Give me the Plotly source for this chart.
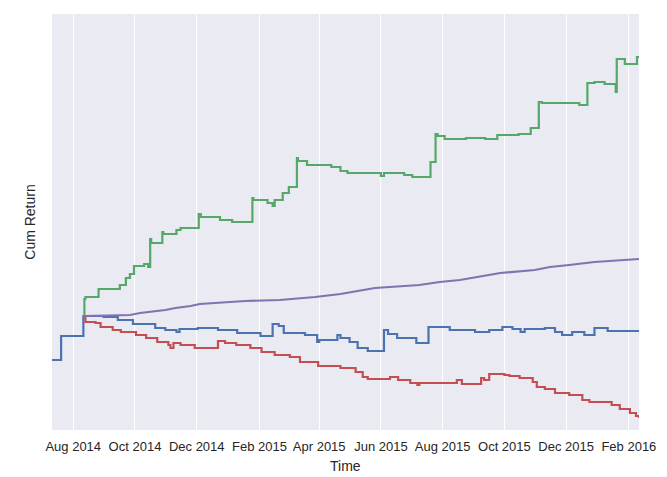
import plotly.graph_objects as go

blue_dates = ["2014-07-11", "2014-07-20", "2014-08-11", "2014-08-31", "2014-09-14", "2014-09-29",
              "2014-10-21", "2014-10-31", "2014-11-11", "2014-11-14", "2014-12-02", "2014-12-22",
              "2015-01-10", "2015-02-02", "2015-02-14", "2015-02-20", "2015-02-25", "2015-03-18",
              "2015-03-30", "2015-04-01", "2015-04-19", "2015-04-22", "2015-05-01", "2015-05-09",
              "2015-05-19", "2015-06-04", "2015-06-08", "2015-06-17", "2015-07-06", "2015-07-18",
              "2015-08-08", "2015-09-02", "2015-09-16", "2015-09-29", "2015-10-09", "2015-10-17",
              "2015-10-21", "2015-11-10", "2015-11-20", "2015-11-27", "2015-12-07", "2015-12-19",
              "2015-12-29", "2016-01-11", "2016-02-11"]
blue_vals = [0.00, 0.24, 0.44, 0.43, 0.40, 0.36,
             0.32, 0.30, 0.28, 0.31, 0.32, 0.30,
             0.27, 0.24, 0.36, 0.34, 0.27, 0.25,
             0.18, 0.20, 0.25, 0.22, 0.18, 0.12,
             0.09, 0.30, 0.26, 0.22, 0.17, 0.33,
             0.30, 0.28, 0.30, 0.33, 0.31, 0.28,
             0.31, 0.32, 0.28, 0.25, 0.28, 0.25,
             0.32, 0.29, 0.29]

green_dates = ["2014-08-11", "2014-08-12", "2014-08-13", "2014-08-26", "2014-09-16", "2014-09-22",
               "2014-09-26", "2014-09-30", "2014-10-10", "2014-10-14", "2014-10-16", "2014-10-17",
               "2014-10-28", "2014-10-29", "2014-11-11", "2014-11-15", "2014-12-03", "2014-12-05",
               "2014-12-24", "2015-01-05", "2015-01-25", "2015-01-26", "2015-02-09", "2015-02-14",
               "2015-02-16", "2015-02-24", "2015-03-02", "2015-03-10", "2015-03-11", "2015-03-20",
               "2015-04-13", "2015-04-22", "2015-04-29", "2015-06-01", "2015-06-04", "2015-06-24",
               "2015-07-02", "2015-07-20", "2015-07-25", "2015-07-27", "2015-08-03", "2015-08-24",
               "2015-09-12", "2015-09-24", "2015-10-15", "2015-10-27", "2015-11-04", "2015-11-07",
               "2015-12-14", "2015-12-22", "2015-12-29", "2016-01-08", "2016-01-19", "2016-01-20",
               "2016-01-28", "2016-02-09", "2016-02-11"]
green_vals = [0.44, 0.61, 0.63, 0.71, 0.75, 0.82,
              0.86, 0.94, 0.96, 0.93, 1.21, 1.17,
              1.28, 1.26, 1.30, 1.32, 1.46, 1.43,
              1.40, 1.38, 1.62, 1.60, 1.57, 1.54,
              1.60, 1.67, 1.73, 2.02, 1.99, 1.95,
              1.93, 1.89, 1.87, 1.84, 1.87, 1.85,
              1.83, 1.98, 2.26, 2.24, 2.21, 2.22,
              2.21, 2.25, 2.26, 2.32, 2.58, 2.57,
              2.55, 2.77, 2.78, 2.76, 2.68, 3.01,
              2.96, 3.03, 3.03]

red_dates = ["2014-08-11", "2014-08-13", "2014-08-23", "2014-08-28", "2014-09-09", "2014-09-17",
             "2014-10-02", "2014-10-12", "2014-10-23", "2014-11-03", "2014-11-05", "2014-11-08",
             "2014-11-15", "2014-11-29", "2014-12-22", "2014-12-29", "2015-01-09", "2015-01-23",
             "2015-02-03", "2015-02-16", "2015-03-03", "2015-03-13", "2015-03-31", "2015-04-22",
             "2015-05-07", "2015-05-14", "2015-05-19", "2015-06-10", "2015-06-18", "2015-06-30",
             "2015-07-07", "2015-07-09", "2015-08-15", "2015-08-20", "2015-09-08", "2015-09-11",
             "2015-09-16", "2015-10-01", "2015-10-06", "2015-10-16", "2015-10-29", "2015-11-02",
             "2015-11-10", "2015-11-20", "2015-12-04", "2015-12-17", "2015-12-24", "2016-01-15",
             "2016-01-23", "2016-02-02", "2016-02-08", "2016-02-11"]
red_vals = [0.44, 0.38, 0.37, 0.33, 0.30, 0.28,
            0.25, 0.22, 0.18, 0.15, 0.12, 0.17,
            0.15, 0.12, 0.19, 0.17, 0.15, 0.12,
            0.08, 0.05, 0.03, -0.02, -0.06, -0.08,
            -0.12, -0.17, -0.19, -0.17, -0.20, -0.23,
            -0.25, -0.23, -0.20, -0.24, -0.18, -0.20,
            -0.14, -0.15, -0.16, -0.18, -0.22, -0.27,
            -0.29, -0.33, -0.35, -0.40, -0.42, -0.45,
            -0.49, -0.53, -0.56, -0.58]

purple_dates = ["2014-08-11", "2014-09-26", "2014-10-06", "2014-10-16", "2014-10-31", "2014-11-10",
                "2014-11-25", "2014-12-04", "2014-12-19", "2015-01-18", "2015-02-21", "2015-03-28",
                "2015-04-22", "2015-05-26", "2015-07-09", "2015-07-29", "2015-08-18", "2015-09-27",
                "2015-10-31", "2015-11-15", "2015-12-04", "2015-12-29", "2016-02-11"]
purple_vals = [0.44, 0.45, 0.47, 0.48, 0.50, 0.52,
               0.54, 0.56, 0.57, 0.59, 0.60, 0.63,
               0.66, 0.72, 0.75, 0.78, 0.80, 0.87,
               0.90, 0.93, 0.95, 0.98, 1.01]

x_range = ["2014-07-11", "2016-02-11"]
y_range = [-0.70, 3.46]

series = [
    (blue_dates, blue_vals, "#4C72B0", "hv"),
    (green_dates, green_vals, "#55A868", "hv"),
    (red_dates, red_vals, "#C44E52", "hv"),
    (purple_dates, purple_vals, "#8172B2", "linear"),
]

fig = go.Figure()
for d, v, c, shape in series:
    fig.add_trace(go.Scatter(x=d, y=v, mode="lines", line=dict(color=c, width=2.2, shape=shape),
                             showlegend=False, hoverinfo="skip"))

# page body has an 8px margin, so the figure is shifted accordingly
fig.update_layout(
    width=651, height=469,
    margin=dict(l=44, r=20, t=6, b=47),
    paper_bgcolor="white", plot_bgcolor="#EAEAF2",
    font=dict(family="Liberation Sans, Arial, sans-serif", size=13, color="#262626"),
    annotations=[dict(text="Time", x=0.5, xref="paper", y=0, yref="paper",
                      yanchor="middle", xanchor="center", yshift=-36, showarrow=False,
                      font=dict(size=14, color="#262626"))],
)
fig.update_xaxes(
    range=x_range, type="date", tick0="2014-08-01", dtick="M2", tickformat="%b %Y",
    showgrid=True, gridcolor="white", gridwidth=1, zeroline=False, showline=False,
    ticks="", ticklen=0, tickfont=dict(size=13), automargin=False, ticklabelstandoff=7,
)
fig.update_yaxes(
    range=y_range, showticklabels=False, showgrid=False, zeroline=False, showline=False,
    ticks="", automargin=False,
    title=dict(text="Cum Return", font=dict(size=14), standoff=12),
)

fig.write_html("out.html")
